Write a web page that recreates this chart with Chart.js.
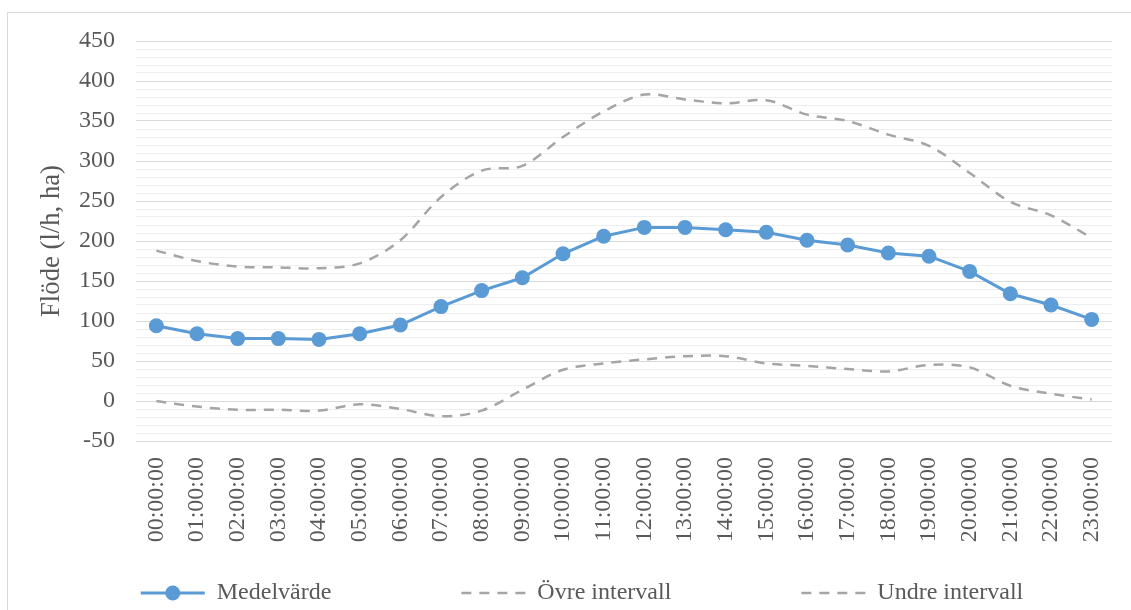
<!DOCTYPE html>
<html lang="sv">
<head>
<meta charset="utf-8">
<title>Flöde per timme</title>
<script src="https://cdn.jsdelivr.net/npm/chart.js@4/dist/chart.umd.min.js"></script>
<style>
  html, body { margin: 0; padding: 0; background: #ffffff; }
  body { width: 1131px; height: 610px; position: relative; overflow: hidden; }
  #frame { position: absolute; left: 7px; top: 12px; width: 1200px; height: 700px; border: 1px solid #d9d9d9; box-sizing: border-box; }
  #chart { position: absolute; left: 0; top: 0; }
</style>
</head>
<body>
<div id="frame"></div>
<canvas id="chart" width="1131" height="610"></canvas>
<script>
// Timme på dygnet
const hours = [
  '00:00:00', '01:00:00', '02:00:00', '03:00:00', '04:00:00', '05:00:00',
  '06:00:00', '07:00:00', '08:00:00', '09:00:00', '10:00:00', '11:00:00',
  '12:00:00', '13:00:00', '14:00:00', '15:00:00', '16:00:00', '17:00:00',
  '18:00:00', '19:00:00', '20:00:00', '21:00:00', '22:00:00', '23:00:00'
];

// Medelvärde av flödet (l/h, ha)
const medelvarde = [94, 84, 78, 78, 77, 84, 95, 118, 138, 154, 184, 206,
                    217, 217, 214, 211, 201, 195, 185, 181, 162, 134, 120, 102];

// Övre gräns för intervallet
const ovreIntervall = [188, 175, 168, 167, 166, 172, 201, 255, 288, 294, 330, 362,
                       383, 377, 372, 376, 358, 350, 333, 319, 285, 249, 232, 204];

// Undre gräns för intervallet
const undreIntervall = [0, -7, -11, -11, -12, -4, -10, -19, -12, 14, 39, 47,
                        52, 56, 56, 47, 44, 40, 37, 45, 42, 19, 9, 2];

// Y-axelns omfång och steg
const yMin = -50;
const yMax = 450;
const yMinorStep = 10;
const yMajorStep = 50;

const seriesNames = ['Medelvärde', 'Övre intervall', 'Undre intervall'];

const TEXT_COLOR = '#595959';
const FONT_FAMILY = '"Liberation Serif", "Times New Roman", serif';
const TICK_SIZE = 24;

// Förklaring under diagrammet: linjeprov + text för varje serie
const bottomLegend = {
  id: 'bottomLegend',
  afterDraw(chart) {
    const ctx = chart.ctx;
    const sets = chart.data.datasets;
    const sample = 64, gap = 12, spacing = 130;
    const centerX = 582, y = 593;
    ctx.save();
    ctx.font = TICK_SIZE + 'px ' + FONT_FAMILY;
    const widths = sets.map(d => sample + gap + ctx.measureText(d.label).width);
    const total = widths.reduce((a, b) => a + b, 0) + spacing * (sets.length - 1);
    let x = centerX - total / 2;
    sets.forEach((d, i) => {
      ctx.strokeStyle = d.borderColor;
      ctx.lineWidth = d.borderWidth;
      ctx.lineCap = 'butt';
      ctx.setLineDash(d.borderDash || []);
      ctx.beginPath();
      ctx.moveTo(x, y);
      ctx.lineTo(x + sample, y);
      ctx.stroke();
      ctx.setLineDash([]);
      if (d.pointRadius > 0) {
        ctx.fillStyle = d.pointBackgroundColor;
        ctx.beginPath();
        ctx.arc(x + sample / 2, y, d.pointRadius, 0, Math.PI * 2);
        ctx.fill();
      }
      ctx.fillStyle = TEXT_COLOR;
      ctx.textAlign = 'left';
      ctx.textBaseline = 'middle';
      ctx.fillText(d.label, x + sample + gap, y);
      x += widths[i] + spacing;
    });
    ctx.restore();
  }
};

new Chart(document.getElementById('chart'), {
  type: 'line',
  data: {
    labels: hours,
    datasets: [
      {
        label: seriesNames[0],
        data: medelvarde,
        borderColor: '#5b9bd5',
        backgroundColor: '#5b9bd5',
        borderWidth: 3,
        pointRadius: 7.5,
        pointBackgroundColor: '#5b9bd5',
        pointBorderColor: '#5b9bd5',
        pointBorderWidth: 0,
        tension: 0,
        order: 0
      },
      {
        label: seriesNames[1],
        data: ovreIntervall,
        borderColor: '#a5a5a5',
        borderWidth: 2.5,
        borderDash: [10, 8],
        pointRadius: 0,
        tension: 0.33,
        fill: false,
        order: 1
      },
      {
        label: seriesNames[2],
        data: undreIntervall,
        borderColor: '#a5a5a5',
        borderWidth: 2.5,
        borderDash: [10, 8],
        pointRadius: 0,
        tension: 0.33,
        fill: false,
        order: 2
      }
    ]
  },
  options: {
    responsive: false,
    animation: false,
    layout: { padding: { left: 0, right: 19, top: 41, bottom: 59 } },
    plugins: {
      legend: { display: false },
      tooltip: { enabled: false }
    },
    scales: {
      x: {
        type: 'category',
        offset: true,
        grid: { display: false },
        border: { display: false },
        ticks: {
          autoSkip: false,
          minRotation: 90,
          maxRotation: 90,
          padding: 8,
          color: TEXT_COLOR,
          font: { family: FONT_FAMILY, size: TICK_SIZE }
        },
        afterFit(scale) {
          scale.height = 110;
          scale.paddingLeft = 0;
          scale.paddingRight = 0;
        }
      },
      y: {
        min: yMin,
        max: yMax,
        border: { display: false },
        grid: {
          drawTicks: false,
          lineWidth: 1,
          color: (c) => (c.tick && c.tick.value % yMajorStep === 0) ? '#d9d9d9' : '#eeeeee'
        },
        ticks: {
          stepSize: yMinorStep,
          autoSkip: false,
          padding: 21,
          color: TEXT_COLOR,
          font: { family: FONT_FAMILY, size: TICK_SIZE },
          callback: (v) => (v % yMajorStep === 0 ? String(v) : '')
        },
        title: {
          display: true,
          text: 'Flöde (l/h, ha)',
          color: TEXT_COLOR,
          font: { family: FONT_FAMILY, size: 26.7 },
          padding: { top: 36, bottom: 0 }
        },
        afterFit(scale) {
          scale.width = 136;
          scale.paddingTop = 0;
          scale.paddingBottom = 0;
        }
      }
    }
  },
  plugins: [bottomLegend]
});
</script>
</body>
</html>
